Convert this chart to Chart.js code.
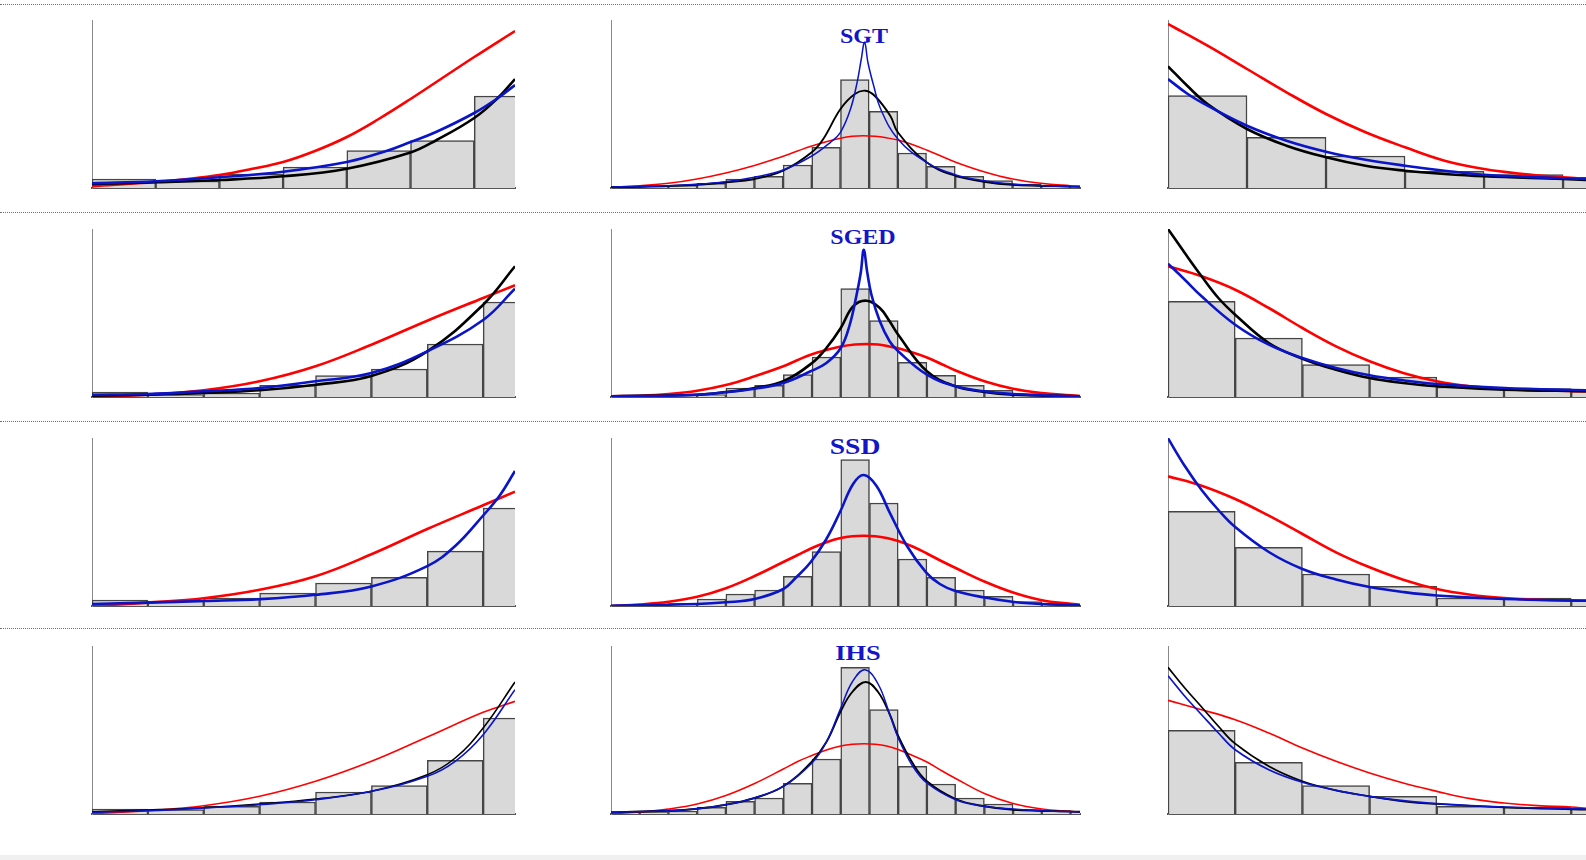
<!DOCTYPE html>
<html>
<head>
<meta charset="utf-8">
<script src="https://cdn.jsdelivr.net/npm/chart.js@4.4.1/dist/chart.umd.min.js"></script>
<style>
    html, body { margin: 0; padding: 0; background: #fff; overflow: hidden; width: 1586px; height: 860px; }
    canvas { position: absolute; }
    .sep { position: absolute; left: 0; width: 1586px; height: 0; border-top: 1px dotted #707070; }
    .etiqueta { position: absolute; font-family: "Liberation Serif", "Times New Roman", serif; font-weight: bold;
                color: #1414c8; line-height: 1; white-space: nowrap; transform: translate(-50%, -50%) scaleX(1.2); }
    .pie { position: absolute; left: 0; top: 855px; width: 1586px; height: 5px; background: #f0f0f0; }
</style>
</head>
<body>
<div class="sep" style="top:4px"></div>
<div class="sep" style="top:212px"></div>
<div class="sep" style="top:421px"></div>
<div class="sep" style="top:628px"></div>
<div class="pie"></div>

<div class="etiqueta" style="left:864px; top:36px; font-size:20px">SGT</div>
<div class="etiqueta" style="left:863px; top:237px; font-size:20px">SGED</div>
<div class="etiqueta" style="left:855px; top:446px; font-size:23px">SSD</div>
<div class="etiqueta" style="left:858px; top:653px; font-size:22px">IHS</div>

<script>
// Histogram heights (one per bin) and fitted densities as [bin position, height]
// Height units: 168 = top of the y axis

// ---- SGT ----
const sgtLeftBars = [9, 7, 14, 21, 37.5, 47.5, 92];
const sgtLeftRed = [[0, 1.7], [1, 6], [1.5, 9], [2, 13], [2.5, 19], [3, 26], [3.5, 37], [4, 51], [4.5, 69], [5, 89], [5.5, 110], [6, 131], [6.64, 157]];
const sgtLeftBlue = [[0, 4.7], [1, 6.7], [2, 10.7], [3, 16.3], [4, 26], [4.62, 37], [5, 46], [5.4, 56], [6, 75], [6.37, 90], [6.64, 103]];
const sgtLeftBlack = [[0, 4], [1, 5.7], [2, 8], [3, 11.7], [4, 19.3], [5, 35.5], [5.41, 48], [6, 70], [6.37, 90], [6.64, 109]];

const sgtMidBars = [1, 1.5, 2.5, 4.7, 9, 11.7, 23, 40.7, 108.3, 76.7, 35, 21.7, 11.7, 7.3, 4, 3, 2];
const sgtMidRed = [[0, 0.7], [1, 2.3], [2, 4.7], [3, 9], [4, 15], [5, 22.5], [6, 31.8], [6.5, 37], [7, 42], [7.5, 46.3], [8, 49.8], [8.4, 51.7], [8.8, 52.3], [9.2, 51.7], [9.6, 50.2], [10, 48], [10.5, 43.5], [11, 38], [11.5, 32], [12, 26], [13, 16.3], [14, 9], [15, 4.7], [16, 2.3], [16.35, 1.7]];
const sgtMidBlue = [[0, 1], [2, 2.3], [3, 3.7], [4, 6.3], [5, 10.7], [6, 18], [7, 32], [7.65, 45.7], [8, 55.7], [8.35, 79], [8.58, 105.7], [8.72, 128], [8.84, 145.7], [8.96, 125], [9.16, 102], [9.4, 79], [10, 49], [11, 25.7], [12, 13.3], [13, 7.3], [14, 4], [15, 2.3], [16.35, 1.3]];
const sgtMidBlack = [[0, 1], [1, 1.3], [3, 3.3], [4, 5.7], [5, 9], [6, 17.3], [7, 35.7], [7.4, 49], [8, 79], [8.5, 94], [8.87, 97.3], [9.2, 92], [9.74, 72], [10, 55.7], [11, 25.7], [12, 12.3], [13, 6.3], [14, 3.3], [16.35, 1.3]];

const sgtRightBars = [92.3, 50.7, 32, 16.7, 13.3, 10.7];
const sgtRightRed = [[0, 164], [0.5, 142.3], [1, 119], [1.5, 95.7], [2, 74], [2.5, 55.7], [3, 40.7], [3.5, 27.3], [4, 19], [4.5, 14], [5, 10.7], [5.29, 9]];
const sgtRightBlue = [[0, 109], [0.25, 94], [0.5, 82.3], [1, 62.3], [1.5, 47.3], [2, 36.3], [2.5, 28.3], [3, 22.3], [3.5, 17.3], [4, 13.3], [5, 9.7], [5.29, 9]];
const sgtRightBlack = [[0, 121.7], [0.25, 101.7], [0.5, 84], [1, 59], [1.5, 42.3], [2, 30.7], [2.5, 22.3], [3, 17.3], [3.5, 14], [4, 11.7], [5, 9], [5.29, 8]];

// ---- SGED ----
const sgedLeftBars = [5, 2.3, 4, 11.7, 21.3, 28, 53, 95];
const sgedLeftRed = [[0, 0], [1, 2.3], [2, 6.7], [3, 15.7], [4, 30.7], [5, 52.3], [6, 76.3], [7, 99], [7.57, 111.7]];
const sgedLeftBlue = [[0, 2.3], [1, 3], [2, 5.7], [3, 9], [4, 15.7], [5, 24], [6, 45.7], [7, 77], [7.57, 108.3]];
const sgedLeftBlack = [[0, 1.3], [1, 2.3], [2, 4], [3, 6.7], [4, 12.3], [5, 21], [6, 45.7], [7, 92.3], [7.57, 130.7]];

const sgedMidBars = [0.3, 0.7, 1.3, 2.3, 9, 11.7, 22.3, 40, 108.3, 76.3, 34.7, 21.7, 11.7, 6.7, 3.3, 1.7, 0.7];
const sgedMidRed = [[0, 0.7], [1, 1.3], [2, 3], [3, 6.3], [4, 12], [5, 20.7], [6, 30.7], [6.5, 37], [7, 42.8], [7.5, 47], [8, 50.5], [8.5, 52.5], [8.9, 53], [9.3, 52.5], [9.7, 50.5], [10, 48.7], [10.5, 44.5], [11, 39.5], [11.5, 33], [12, 26.5], [13, 15.7], [14, 8.3], [15, 4], [16, 1.7], [16.33, 1]];
const sgedMidBlue = [[0, 0.7], [2, 1.3], [3, 2.3], [4, 4.7], [5, 8.3], [6, 14], [6.95, 25.7], [7.5, 34], [8, 49], [8.31, 72], [8.55, 102], [8.7, 125], [8.8, 147.3], [8.92, 125], [9.07, 102], [9.36, 75.7], [9.7, 55.7], [10, 45.7], [11, 22.3], [12, 10.7], [13, 5.7], [14, 3], [15, 1.7], [16.33, 0.7]];
const sgedMidBlack = [[0, 0.7], [3, 2.3], [4, 5], [5, 9], [6, 15.7], [7, 34], [7.5, 49], [8, 69], [8.43, 90.7], [8.9, 96.3], [9.36, 89], [9.7, 75.7], [10, 62.3], [11, 25.7], [12, 10.7], [13, 5], [14, 2.3], [16.33, 0.7]];

const sgedRightBars = [95.7, 59, 32.3, 20, 10, 8.3, 5.7];
const sgedRightRed = [[0, 130.7], [0.5, 120.7], [1, 107.3], [1.5, 89], [2, 69], [2.5, 50.7], [3, 35.7], [3.5, 24], [4, 15.7], [4.5, 10.7], [5, 8.3], [5.5, 6.7], [6.22, 5.7]];
const sgedRightBlue = [[0, 133.3], [0.25, 117.3], [0.5, 100.7], [1, 72.3], [1.5, 52.3], [2, 39], [2.5, 29], [3, 21.7], [3.5, 16.7], [4, 13], [5, 9], [6.22, 6.7]];
const sgedRightBlack = [[0, 168], [0.25, 144], [0.5, 120.7], [0.75, 99], [1, 82.3], [1.5, 54], [2, 38.3], [2.5, 27.3], [3, 19], [3.5, 14], [4, 10.7], [5, 7.3], [6.22, 5.7]];

// ---- SSD ----
const ssdLeftBars = [6, 5, 7.8, 12.8, 23, 28.7, 54.8, 98];
const ssdLeftRed = [[0, 0], [1, 3.4], [2, 7.8], [3, 16.2], [4, 29.7], [5, 51.7], [6, 77], [7, 100.7], [7.57, 114.3]];
const ssdLeftBlue = [[0, 2], [1, 3.4], [2, 5], [3, 6.8], [4, 11.2], [5, 19.6], [6, 39.9], [6.5, 60], [7, 90.5], [7.3, 110.8], [7.57, 135]];

const ssdMidBars = [0.7, 1, 2.5, 7, 12, 16, 29.7, 54.3, 146.3, 103, 47, 28.7, 16, 9.7, 4.3, 3, 2];
const ssdMidRed = [[0, 0], [1, 1.5], [2, 4.2], [3, 9.2], [4, 17.8], [5, 30], [6, 44], [6.5, 51], [7, 58], [7.5, 63.8], [8, 68], [8.4, 69.8], [8.8, 70.3], [9.2, 69.8], [9.6, 68], [10, 65], [10.5, 59.5], [11, 52.5], [11.5, 45], [12, 38], [13, 24.5], [14, 13.5], [15, 5.8], [16, 2.2], [16.33, 1.3]];
const ssdMidBlue = [[0, 0.3], [3, 2], [4, 3.7], [5, 7], [6, 17], [6.45, 28.7], [6.95, 43.7], [7.5, 67], [7.97, 93.7], [8.43, 122], [8.8, 131], [9.24, 120.3], [9.7, 93.7], [10.3, 60.3], [10.97, 33.7], [11.45, 22], [11.97, 15.3], [12.97, 8.7], [13.97, 4.3], [14.97, 2], [16.33, 0.7]];

const ssdRightBars = [94.7, 58.7, 32, 19.7, 8, 8, 6.3];
const ssdRightRed = [[0, 129.7], [0.5, 120.3], [1, 107], [1.5, 90.3], [2, 72], [2.5, 53.7], [3, 38.7], [3.5, 26.3], [4, 17], [4.5, 11.3], [5, 8], [5.5, 6.3], [6.22, 5.3]];
const ssdRightBlue = [[0, 167.7], [0.25, 140], [0.5, 116], [0.75, 96], [1, 79], [1.5, 54], [2, 37], [2.5, 26.5], [3, 19], [3.5, 14], [4, 10.5], [5, 7], [6.22, 5.3]];

// ---- IHS ----
const ihsLeftBars = [5, 4.3, 7.7, 12, 22, 28.3, 53.7, 96];
const ihsLeftRed = [[0, 0.3], [1, 3.3], [2, 8.3], [3, 17.7], [4, 32.7], [5, 52.7], [6, 77], [7, 101.7], [7.57, 112.7]];
const ihsLeftBlue = [[0, 1.7], [1, 3.3], [2, 6], [3, 9.3], [4, 14.3], [5, 22.7], [6, 37.7], [6.5, 52.7], [7, 79.3], [7.57, 124.3]];
const ihsLeftBlack = [[0, 2.3], [1, 4], [2, 6.3], [3, 10], [4, 15], [5, 22.7], [6, 39.3], [6.5, 56], [7, 86], [7.57, 132]];

const ihsMidBars = [1.7, 1.7, 3, 6.7, 12.7, 16, 30.7, 55, 146.7, 104.3, 47.7, 30, 16, 10, 4.3, 3.3, 2.7];
const ihsMidRed = [[0, 0.3], [1, 2], [2, 5], [3, 10], [4, 18.5], [5, 30.5], [6, 45], [6.5, 52.5], [7, 58.5], [7.5, 64], [8, 68], [8.4, 69.8], [8.81, 70.3], [9.2, 69.8], [9.6, 68], [10, 64.5], [10.5, 58.5], [11, 52], [11.5, 43.5], [12, 35.5], [13, 20.5], [14, 10.5], [15, 5], [16, 2.7], [16.33, 2]];
const ihsMidBlue = [[0, 1.7], [2, 3.3], [3, 5.3], [4, 9.3], [5, 16], [6, 27.7], [7, 51], [7.5, 72], [8, 106], [8.4, 132], [8.84, 144.3], [9.3, 130], [9.7, 100], [10, 76], [10.5, 48], [11, 31], [12, 14.3], [13, 7.7], [14, 5], [15, 3.3], [16.33, 2]];
const ihsMidBlack = [[0, 1.7], [2, 3.3], [3, 5.3], [4, 9.3], [5, 16], [6, 27.7], [7, 52.7], [7.5, 72], [8, 102.7], [8.4, 122], [8.87, 132], [9.3, 122], [9.7, 100], [10, 78], [10.5, 51], [11, 32.7], [12, 15], [13, 7.7], [14, 4.3], [16.33, 2.3]];

const ihsRightBars = [83.7, 51.7, 28.3, 17.7, 7.7, 7, 6];
const ihsRightRed = [[0, 113.7], [0.5, 104.3], [1, 94.3], [1.5, 81], [2, 66], [2.5, 52.7], [3, 41], [3.5, 31], [4, 22.7], [4.5, 15.3], [5, 11], [5.5, 8.3], [6, 7], [6.22, 5.7]];
const ihsRightBlue = [[0, 138.3], [0.25, 117.7], [0.5, 99.3], [0.75, 81], [1, 64.3], [1.5, 44.3], [2, 31.7], [2.5, 23.7], [3, 17.7], [3.5, 13.3], [4, 10.3], [5, 7], [6.22, 5]];
const ihsRightBlack = [[0, 146.7], [0.25, 126], [0.5, 107], [0.75, 87.7], [1, 70.3], [1.5, 47.7], [2, 32.7], [2.5, 23.7], [3, 17.7], [3.5, 12.7], [4, 10], [5, 6.7], [6.22, 4.3]];

// visible x range of each panel, in bins
const xRangeLeft = [6.64, 7.57, 7.57, 7.57];
const xRangeMid = [16.35, 16.33, 16.33, 16.33];
const xRangeRight = [5.29, 6.22, 6.22, 6.22];

// layout (pixels)
const colLeft = [92, 611, 1168];
const colRight = [515, 1080, 1586];
const rowTop = [20, 229, 438, 646];
const plotHeight = 168;
const yMax = 168;
const pad = 6;

const paneles = [
    { row: 0, col: 0, range: xRangeLeft[0], bars: sgtLeftBars, red: sgtLeftRed, blue: sgtLeftBlue, black: sgtLeftBlack, lw: 2.6 },
    { row: 0, col: 1, range: xRangeMid[0], bars: sgtMidBars, red: sgtMidRed, blue: sgtMidBlue, black: sgtMidBlack, lw: 1.5, lwBlack: 1.9 },
    { row: 0, col: 2, range: xRangeRight[0], bars: sgtRightBars, red: sgtRightRed, blue: sgtRightBlue, black: sgtRightBlack, lw: 2.6 },
    { row: 1, col: 0, range: xRangeLeft[1], bars: sgedLeftBars, red: sgedLeftRed, blue: sgedLeftBlue, black: sgedLeftBlack, lw: 2.6 },
    { row: 1, col: 1, range: xRangeMid[1], bars: sgedMidBars, red: sgedMidRed, blue: sgedMidBlue, black: sgedMidBlack, lw: 2.6 },
    { row: 1, col: 2, range: xRangeRight[1], bars: sgedRightBars, red: sgedRightRed, blue: sgedRightBlue, black: sgedRightBlack, lw: 2.6 },
    { row: 2, col: 0, range: xRangeLeft[2], bars: ssdLeftBars, red: ssdLeftRed, blue: ssdLeftBlue, lw: 2.6 },
    { row: 2, col: 1, range: xRangeMid[2], bars: ssdMidBars, red: ssdMidRed, blue: ssdMidBlue, lw: 2.6 },
    { row: 2, col: 2, range: xRangeRight[2], bars: ssdRightBars, red: ssdRightRed, blue: ssdRightBlue, lw: 2.6 },
    { row: 3, col: 0, range: xRangeLeft[3], bars: ihsLeftBars, red: ihsLeftRed, blue: ihsLeftBlue, black: ihsLeftBlack, lw: 1.6 },
    { row: 3, col: 1, range: xRangeMid[3], bars: ihsMidBars, red: ihsMidRed, blue: ihsMidBlue, black: ihsMidBlack, lw: 1.5, lwBlack: 1.9 },
    { row: 3, col: 2, range: xRangeRight[3], bars: ihsRightBars, red: ihsRightRed, blue: ihsRightBlue, black: ihsRightBlack, lw: 1.7 }
];

function curva(puntos, color, ancho, orden) {
    return {
        type: 'line',
        data: puntos.map(p => ({ x: p[0], y: p[1] })),
        borderColor: color,
        borderWidth: ancho,
        pointRadius: 0,
        fill: false,
        tension: 0.4,
        order: orden
    };
}

function crearPanel(p) {
    const canvas = document.createElement('canvas');
    canvas.width = colRight[p.col] - colLeft[p.col] + 2 * pad;
    canvas.height = plotHeight + 2 * pad;
    canvas.style.left = (colLeft[p.col] - pad) + 'px';
    canvas.style.top = (rowTop[p.row] - pad) + 'px';
    document.body.appendChild(canvas);

    const datasets = [{
        type: 'bar',
        data: p.bars.map((v, i) => ({ x: i + 0.5, y: v })),
        backgroundColor: '#d9d9d9',
        borderColor: '#454545',
        borderWidth: 1.5,
        barPercentage: 1,
        categoryPercentage: 1,
        clip: 0,
        order: 4
    }];
    datasets.push(curva(p.red, '#ff0000', p.lw, 3));
    if (p.black) datasets.push(curva(p.black, '#000000', p.lwBlack || p.lw, 2));
    datasets.push(curva(p.blue, '#0a14c8', p.lw, 1));

    new Chart(canvas.getContext('2d'), {
        data: { datasets: datasets },
        options: {
            responsive: false,
            animation: false,
            events: [],
            layout: { padding: pad },
            plugins: { legend: { display: false }, tooltip: { enabled: false } },
            scales: {
                x: {
                    type: 'linear',
                    min: 0,
                    max: p.range,
                    offset: false,
                    z: 1,
                    grid: { display: false, drawTicks: false },
                    ticks: { display: false },
                    border: { display: true, color: '#555555', width: 2 },
                    afterBuildTicks: s => { s.ticks = [{ value: s.min }, { value: s.max }]; }
                },
                y: {
                    min: 0,
                    max: yMax,
                    grid: { display: false, drawTicks: false },
                    ticks: { display: false },
                    border: { display: true, color: '#8a8a8a', width: 1 }
                }
            }
        }
    });
}

paneles.forEach(crearPanel);
</script>
</body>
</html>
